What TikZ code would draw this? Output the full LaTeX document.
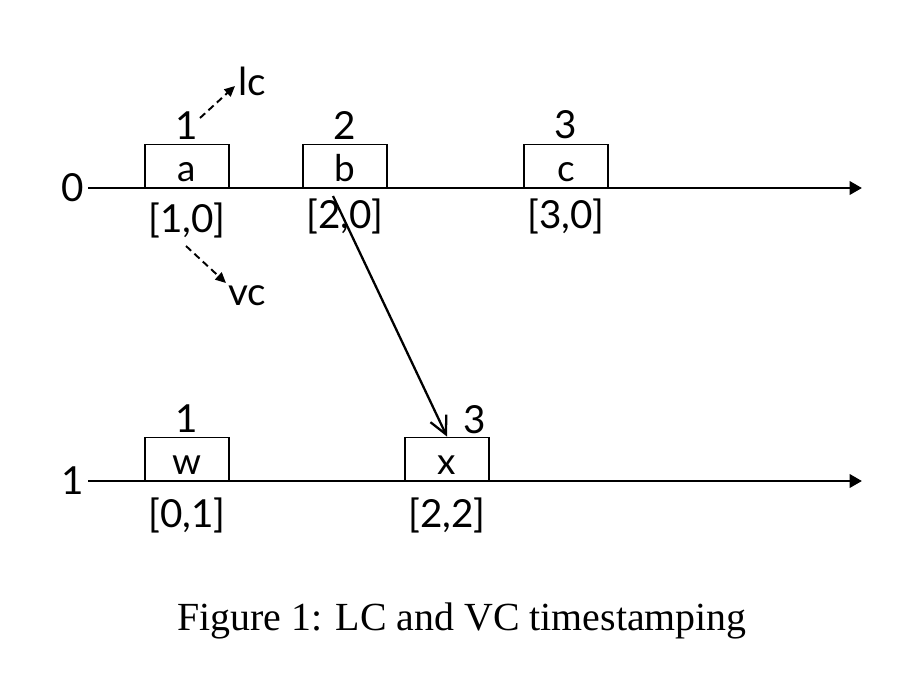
\documentclass[tikz,border=0pt]{standalone}
\usepackage{fontspec}
\setmainfont{Liberation Serif}
\newfontfamily\lblfont{Lato}
\usetikzlibrary{arrows.meta,positioning,calc}

\tikzset{
  event/.style={draw, thick, minimum width=1.68cm, minimum height=0.86cm,
    inner sep=0pt, anchor=south, font=\lblfont\fontsize{21}{21}\selectfont,
    text depth=0.12cm, text height=0.74cm},
  stamp/.style={font=\lblfont\fontsize{22}{22}\selectfont},
  timeline/.style={line width=1.6pt, -{Triangle[length=7pt,width=7.5pt]}},
  clockarrow/.style={line width=1.1pt, dash pattern=on 4pt off 2.5pt,
    -{Triangle[length=6pt,width=5.5pt]}},
}

\begin{document}
\begin{tikzpicture}[x=0.02cm, y=-0.02cm]
    \useasboundingbox (0,0) rectangle (904,684);

    % Process lines
    \coordinate (p0s) at (88,188);
    \coordinate (p0e) at (862,188);
    \coordinate (p1s) at (88,481);
    \coordinate (p1e) at (862,481);
    \draw[timeline] (p0s) -- (p0e);
    \draw[timeline] (p1s) -- (p1e);
    \node[stamp, left=-1pt of p0s] (p0lbl) {0};
    \node[stamp, left=-1pt of p1s] (p1lbl) {1};

    % Events on process 0
    \node[event] (a) at (187,188) {a};
    \node[event] (b) at (345,188) {b};
    \node[event] (c) at (566,188) {c};

    % Events on process 1
    \node[event] (w) at (187,481) {w};
    \node[event] (x) at (447,481) {x};

    % Logical clocks
    \node[stamp, above=-1pt of a] (lca) {1};
    \node[stamp, above=-1pt of b] (lcb) {2};
    \node[stamp, above=-1pt of c] (lcc) {3};
    \node[stamp, above=-1pt of w] (lcw) {1};
    \node[stamp] (lcx) at (475,420) {3};

    % Vector clocks
    \node[stamp, below=5pt of a] (vca) {[1,0]};
    \node[stamp, below=2.5pt of b] (vcb) {[2,0]};
    \node[stamp, below=2.5pt of c] (vcc) {[3,0]};
    \node[stamp, below=6pt of w] (vcw) {[0,1]};
    \node[stamp, below=6pt of x] (vcx) {[2,2]};

    % Legend arrows
    \node[stamp] (lc) at (252,81) {lc};
    \node[stamp] (vc) at (247,296) {vc};
    \coordinate (lcfrom) at (200,118);
    \coordinate (lcto) at (235,86);
    \coordinate (vcfrom) at (186,246);
    \coordinate (vcto) at (226,283);
    \draw[clockarrow] (lcfrom) -- (lcto);
    \draw[clockarrow] (vcfrom) -- (vcto);

    % Message b -> x
    \coordinate (send) at (333,196);
    \draw[line width=1.3pt, -{Straight Barb[length=10pt,width=10pt]}] (send) -- (x.north);

    % Caption
    \node[font=\fontsize{22.7}{22.7}\selectfont] (cap) at (462,621)
      {Figure 1: LC and VC timestamping};
\end{tikzpicture}
\end{document}
